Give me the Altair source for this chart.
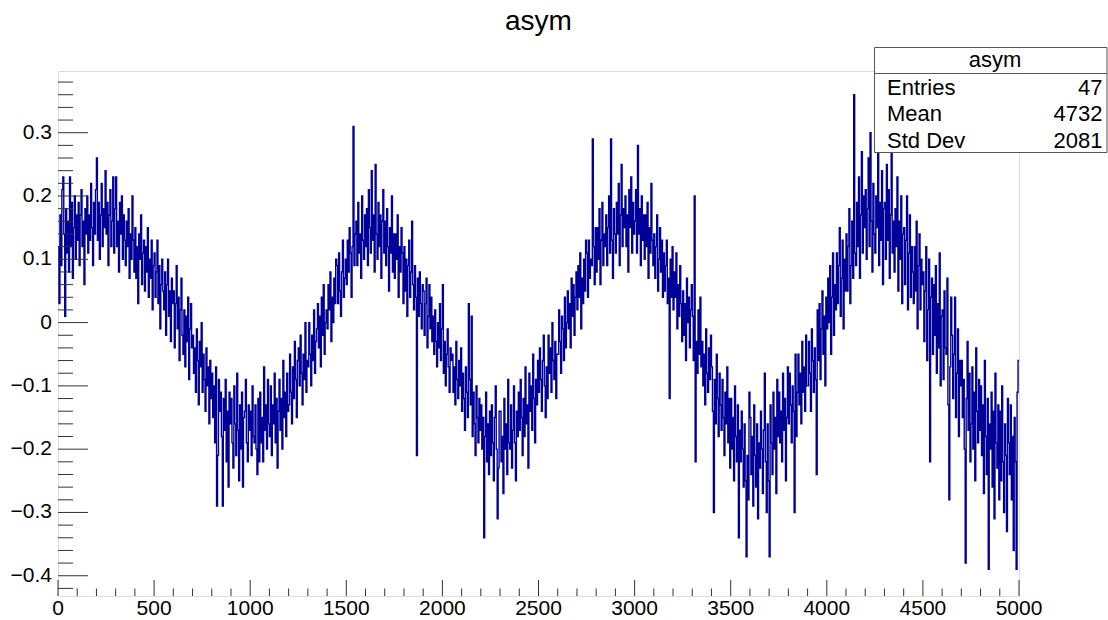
import altair as alt
import pandas as pd

# ---------------- data ----------------
title_text = "asym"
x_range = [0, 5000]

# histogram contents, one value per 5 units of x, read row by row (each row = 50 units)
asym_values = [
    0.12, 0.03, 0.17, 0.09, 0.21, 0.23, 0.14, 0.01, 0.18, 0.11,           # 0
    0.16, 0.08, 0.23, 0.12, 0.19, 0.07, 0.15, 0.20, 0.10, 0.17,           # 50
    0.13, 0.19, 0.09, 0.17, 0.21, 0.12, 0.16, 0.06, 0.18, 0.14,           # 100
    0.20, 0.11, 0.17, 0.13, 0.22, 0.15, 0.09, 0.19, 0.14, 0.21,           # 150
    0.26, 0.13, 0.19, 0.10, 0.17, 0.22, 0.12, 0.18, 0.15, 0.24,           # 200
    0.14, 0.19, 0.09, 0.17, 0.21, 0.12, 0.16, 0.23, 0.11, 0.18,           # 250
    0.23, 0.12, 0.16, 0.08, 0.19, 0.14, 0.20, 0.10, 0.17, 0.13,           # 300
    0.09, 0.16, 0.12, 0.18, 0.07, 0.14, 0.10, 0.20, 0.13, 0.08,           # 350
    0.15, 0.07, 0.12, 0.03, 0.14, 0.10, 0.17, 0.06, 0.11, 0.13,           # 400
    0.05, 0.12, 0.08, 0.15, 0.04, 0.10, 0.07, 0.13, 0.02, 0.09,           # 450
    0.11, 0.04, 0.08, 0.13, 0.03, 0.09, -0.01, 0.06, 0.10, 0.05,          # 500
    0.02, 0.08, -0.02, 0.06, 0.10, 0.01, 0.05, -0.03, 0.07, 0.03,         # 550
    0.05, -0.04, 0.03, 0.09, -0.01, 0.04, -0.06, 0.02, 0.07, -0.02,       # 600
    -0.05, 0.02, -0.07, 0.01, -0.03, 0.04, -0.09, -0.01, 0.03, -0.04,     # 650
    -0.02, -0.08, -0.04, -0.11, -0.01, -0.06, -0.13, -0.03, -0.07, 0.00,  # 700
    -0.11, -0.05, -0.09, -0.14, -0.04, -0.10, -0.07, -0.16, -0.06, -0.12, # 750
    -0.08, -0.15, -0.10, -0.19, -0.07, -0.29, -0.21, -0.09, -0.14, -0.11, # 800
    -0.18, -0.29, -0.12, -0.17, -0.09, -0.22, -0.14, -0.26, -0.11, -0.16, # 850
    -0.12, -0.19, -0.23, -0.10, -0.16, -0.21, -0.08, -0.17, -0.25, -0.13, # 900
    -0.20, -0.11, -0.26, -0.15, -0.14, -0.09, -0.19, -0.22, -0.13, -0.17, # 950
    -0.14, -0.21, -0.10, -0.18, -0.19, -0.13, -0.20, -0.24, -0.12, -0.22, # 1000
    -0.11, -0.19, -0.15, -0.22, -0.07, -0.17, -0.13, -0.20, -0.09, -0.16, # 1050
    -0.18, -0.10, -0.21, -0.13, -0.16, -0.08, -0.19, -0.12, -0.23, -0.14, # 1100
    -0.09, -0.17, -0.12, -0.20, -0.06, -0.15, -0.11, -0.18, -0.08, -0.14, # 1150
    -0.13, -0.05, -0.11, -0.16, -0.07, -0.12, -0.03, -0.09, -0.15, -0.06, # 1200
    -0.04, -0.10, -0.02, -0.08, -0.13, -0.05, -0.09, 0.00, -0.11, -0.06,  # 1250
    -0.07, 0.00, -0.05, -0.10, -0.02, -0.06, 0.02, -0.08, -0.03, -0.01,   # 1300
    0.03, -0.04, 0.01, -0.07, 0.04, -0.02, 0.06, -0.05, 0.00, 0.02,       # 1350
    -0.01, 0.06, 0.02, 0.08, -0.03, 0.04, 0.00, 0.07, 0.03, 0.10,         # 1400
    0.09, 0.03, 0.11, 0.05, 0.01, 0.08, 0.13, 0.04, 0.07, 0.10,           # 1450
    0.06, 0.13, 0.08, 0.15, 0.11, 0.04, 0.12, 0.31, 0.09, 0.14,           # 1500
    0.16, 0.09, 0.19, 0.11, 0.14, 0.07, 0.20, 0.13, 0.10, 0.17,           # 1550
    0.12, 0.18, 0.09, 0.21, 0.15, 0.11, 0.24, 0.13, 0.17, 0.08,           # 1600
    0.25, 0.14, 0.10, 0.19, 0.12, 0.17, 0.07, 0.16, 0.21, 0.11,           # 1650
    0.16, 0.09, 0.18, 0.12, 0.05, 0.15, 0.11, 0.20, 0.08, 0.14,           # 1700
    0.07, 0.14, 0.10, 0.17, 0.04, 0.12, 0.08, 0.15, 0.11, 0.03,           # 1750
    0.12, 0.05, 0.10, 0.01, 0.09, 0.13, 0.04, 0.08, 0.16, 0.06,           # 1800
    0.02, 0.09, 0.04, -0.21, 0.07, 0.01, 0.08, 0.03, -0.01, 0.06,         # 1850
    0.05, -0.02, 0.03, 0.07, -0.04, 0.01, 0.06, -0.01, 0.04, -0.03,       # 1900
    0.01, -0.05, 0.02, -0.03, -0.07, 0.00, -0.04, 0.03, -0.06, -0.01,     # 1950
    0.06, -0.08, -0.03, -0.10, -0.05, -0.01, -0.07, -0.11, -0.04, -0.06,  # 2000
    -0.05, -0.11, -0.07, -0.13, -0.03, -0.09, -0.12, -0.06, -0.10, -0.04, # 2050
    -0.14, -0.08, -0.12, -0.17, -0.07, -0.11, -0.15, 0.03, -0.09, -0.13,  # 2100
    0.01, -0.18, -0.11, -0.16, -0.21, -0.10, -0.15, -0.19, -0.12, -0.17,  # 2150
    -0.13, -0.20, -0.15, -0.34, -0.18, -0.11, -0.22, -0.16, -0.24, -0.14, # 2200
    -0.21, -0.13, -0.19, -0.25, -0.15, -0.10, -0.20, -0.31, -0.23, -0.14, # 2250
    -0.14, -0.22, -0.18, -0.27, -0.12, -0.20, -0.16, -0.24, -0.09, -0.19, # 2300
    -0.20, -0.13, -0.23, -0.17, -0.10, -0.19, -0.25, -0.14, -0.18, -0.11, # 2350
    -0.17, -0.09, -0.15, -0.21, -0.12, -0.18, -0.07, -0.16, -0.13, -0.23, # 2400
    -0.08, -0.14, -0.10, -0.17, -0.05, -0.12, -0.19, -0.09, -0.13, -0.06, # 2450
    -0.11, -0.04, -0.09, -0.14, -0.06, -0.02, -0.10, -0.15, -0.07, -0.12, # 2500
    -0.02, -0.08, -0.04, -0.11, 0.00, -0.06, -0.09, -0.03, -0.12, -0.05,  # 2550
    -0.05, 0.02, -0.03, -0.08, 0.01, -0.01, -0.06, 0.04, -0.04, 0.00,     # 2600
    0.05, -0.01, 0.03, -0.04, 0.07, 0.01, 0.06, -0.02, 0.04, 0.08,        # 2650
    0.02, 0.09, 0.04, 0.11, -0.01, 0.07, 0.03, 0.10, 0.05, 0.13,          # 2700
    0.11, 0.04, 0.13, 0.07, 0.10, 0.09, 0.29, 0.12, 0.06, 0.15,           # 2750
    0.08, 0.15, 0.10, 0.18, 0.06, 0.13, 0.19, 0.09, 0.14, 0.12,           # 2800
    0.17, 0.09, 0.15, 0.20, 0.11, 0.29, 0.13, 0.07, 0.18, 0.14,           # 2850
    0.11, 0.19, 0.14, 0.22, 0.09, 0.17, 0.25, 0.12, 0.18, 0.15,           # 2900
    0.20, 0.12, 0.17, 0.08, 0.21, 0.15, 0.23, 0.11, 0.19, 0.14,           # 2950
    0.16, 0.21, 0.11, 0.28, 0.14, 0.18, 0.09, 0.20, 0.13, 0.17,           # 3000
    0.10, 0.17, 0.12, 0.19, 0.07, 0.15, 0.11, 0.22, 0.13, 0.09,           # 3050
    0.14, 0.07, 0.12, 0.17, 0.05, 0.10, 0.15, 0.08, 0.13, 0.04,           # 3100
    0.11, 0.05, 0.09, 0.13, 0.03, 0.07, -0.12, 0.10, 0.04, 0.12,          # 3150
    0.02, 0.08, 0.04, 0.11, -0.01, 0.06, 0.01, 0.09, 0.03, -0.03,         # 3200
    0.05, -0.02, 0.03, -0.06, 0.07, 0.00, 0.04, -0.04, 0.02, 0.06,        # 3250
    0.01, -0.06, 0.20, -0.22, -0.03, -0.08, 0.02, -0.05, 0.04, -0.07,     # 3300
    -0.03, -0.10, -0.05, -0.13, -0.01, -0.08, -0.11, -0.04, -0.09, -0.02, # 3350
    -0.07, -0.14, -0.30, -0.09, -0.16, -0.05, -0.12, -0.18, -0.08, -0.13, # 3400
    -0.17, -0.09, -0.15, -0.21, -0.11, -0.16, -0.07, -0.19, -0.12, -0.23, # 3450
    -0.12, -0.20, -0.15, -0.25, -0.10, -0.18, -0.22, -0.13, -0.34, -0.17, # 3500
    -0.22, -0.14, -0.20, -0.26, -0.16, -0.25, -0.37, -0.21, -0.28, -0.11, # 3550
    -0.15, -0.24, -0.18, -0.29, -0.13, -0.21, -0.26, -0.16, -0.31, -0.19, # 3600
    -0.23, -0.14, -0.20, -0.27, -0.17, -0.08, -0.22, -0.30, -0.16, -0.25, # 3650
    -0.37, -0.13, -0.19, -0.24, -0.11, -0.20, -0.15, -0.27, -0.09, -0.18, # 3700
    -0.11, -0.19, -0.14, -0.22, -0.08, -0.17, -0.12, -0.25, -0.15, -0.07, # 3750
    -0.16, -0.08, -0.13, -0.19, -0.10, -0.14, -0.30, -0.05, -0.18, -0.11, # 3800
    -0.05, -0.13, -0.08, -0.16, -0.03, -0.11, -0.07, -0.14, -0.02, -0.10, # 3850
    -0.10, -0.03, -0.08, -0.14, -0.01, -0.06, -0.11, -0.04, -0.09, -0.24, # 3900
    0.02, -0.06, 0.03, -0.09, -0.01, 0.05, -0.05, 0.01, -0.10, 0.04,      # 3950
    -0.01, 0.07, 0.00, 0.09, -0.05, 0.04, 0.11, -0.02, 0.06, 0.02,        # 4000
    0.11, 0.03, 0.09, 0.15, 0.01, 0.07, 0.13, -0.01, 0.10, 0.05,          # 4050
    0.14, 0.05, 0.12, 0.18, 0.03, 0.09, 0.16, 0.07, 0.36, 0.11,           # 4100
    0.09, 0.19, 0.12, 0.23, 0.07, 0.17, 0.27, 0.11, 0.20, 0.15,           # 4150
    0.21, 0.10, 0.18, 0.26, 0.12, 0.30, 0.16, 0.08, 0.22, 0.14,           # 4200
    0.11, 0.20, 0.15, 0.29, 0.09, 0.19, 0.13, 0.24, 0.06, 0.18,           # 4250
    0.19, 0.10, 0.25, 0.13, 0.21, 0.07, 0.17, 0.28, 0.11, 0.16,           # 4300
    0.08, 0.18, 0.12, 0.23, 0.05, 0.16, 0.10, 0.20, 0.03, 0.14,           # 4350
    0.15, 0.06, 0.13, 0.20, 0.02, 0.11, 0.17, 0.04, 0.12, 0.08,           # 4400
    0.03, 0.12, 0.05, 0.16, -0.01, 0.09, 0.14, 0.02, 0.10, 0.06,          # 4450
    0.08, -0.03, 0.05, 0.12, -0.06, 0.02, 0.10, -0.22, 0.04, 0.07,        # 4500
    -0.05, 0.06, -0.02, 0.09, -0.08, 0.03, -0.04, 0.11, -0.10, 0.01,      # 4550
    0.02, -0.09, 0.05, -0.04, -0.05, 0.07, -0.13, -0.28, -0.07, 0.04,     # 4600
    -0.02, -0.12, -0.05, 0.04, -0.15, -0.08, -0.01, -0.18, -0.06, -0.10,  # 4650
    -0.06, -0.15, -0.09, -0.20, -0.38, -0.12, -0.03, -0.17, -0.08, -0.22, # 4700
    -0.16, -0.07, -0.20, -0.11, -0.25, -0.04, -0.14, -0.19, -0.09, -0.17, # 4750
    -0.10, -0.21, -0.13, -0.27, -0.06, -0.18, -0.24, -0.12, -0.39, -0.16, # 4800
    -0.20, -0.11, -0.26, -0.14, -0.31, -0.08, -0.19, -0.23, -0.13, -0.28, # 4850
    -0.14, -0.25, -0.10, -0.22, -0.30, -0.16, -0.21, -0.33, -0.12, -0.19, # 4900
    -0.24, -0.13, -0.28, -0.18, -0.36, -0.15, -0.22, -0.39, -0.11, -0.06, # 4950
]

x_tick_values = [0, 500, 1000, 1500, 2000, 2500, 3000, 3500, 4000, 4500, 5000]
x_tick_text = ["0", "500", "1000", "1500", "2000", "2500", "3000", "3500", "4000", "4500", "5000"]
x_minor_ticks = [v for v in range(0, 5001, 100) if v % 500 != 0]
y_tick_values = [-0.4, -0.3, -0.2, -0.1, 0.0, 0.1, 0.2, 0.3]
y_tick_text = ["\u22120.4", "\u22120.3", "\u22120.2", "\u22120.1", "0", "0.1", "0.2", "0.3"]
y_minor_ticks = [-0.42, -0.38, -0.36, -0.34, -0.32, -0.28, -0.26, -0.24, -0.22,
                 -0.18, -0.16, -0.14, -0.12, -0.08, -0.06, -0.04, -0.02,
                 0.02, 0.04, 0.06, 0.08, 0.12, 0.14, 0.16, 0.18,
                 0.22, 0.24, 0.26, 0.28, 0.32, 0.34, 0.36, 0.38]

stat_names = ["Entries", "Mean", "Std Dev"]
stat_values = ["47", "4732", "2081"]

# ---------------- layout / style ----------------
W, H = 961, 525
Y_DOMAIN = [-0.432, 0.3975]
FONT = "Liberation Sans"
LINE_COLOR = "#000099"
TICK_COLOR = "#333333"
LABEL_SIZE = 21

n_bins = len(asym_values)
bw = (x_range[1] - x_range[0]) / n_bins
xs = [x_range[0] + i * bw for i in range(n_bins)] + [x_range[1]]
ys = asym_values + [asym_values[-1]]
hist = pd.DataFrame({"x": xs, "y": ys})

xscale = alt.Scale(domain=x_range, nice=False, zero=False)
yscale = alt.Scale(domain=Y_DOMAIN, nice=False, zero=False)

line = alt.Chart(hist).mark_line(
    interpolate="step-after", color=LINE_COLOR, strokeWidth=1.4, clip=True
).encode(
    x=alt.X("x:Q", scale=xscale, axis=None),
    y=alt.Y("y:Q", scale=yscale, axis=None),
)

# inward ticks
y_major = alt.Chart(pd.DataFrame({"v": y_tick_values})).mark_rule(
    color=TICK_COLOR, strokeWidth=1).encode(
    y=alt.Y("v:Q", scale=yscale, axis=None), x=alt.value(0), x2=alt.value(30))
y_minor = alt.Chart(pd.DataFrame({"v": y_minor_ticks})).mark_rule(
    color=TICK_COLOR, strokeWidth=1).encode(
    y=alt.Y("v:Q", scale=yscale, axis=None), x=alt.value(0), x2=alt.value(15))
x_major = alt.Chart(pd.DataFrame({"v": x_tick_values})).mark_rule(
    color=TICK_COLOR, strokeWidth=1).encode(
    x=alt.X("v:Q", scale=xscale, axis=None), y=alt.value(H), y2=alt.value(H - 16))
x_minor = alt.Chart(pd.DataFrame({"v": x_minor_ticks})).mark_rule(
    color=TICK_COLOR, strokeWidth=1).encode(
    x=alt.X("v:Q", scale=xscale, axis=None), y=alt.value(H), y2=alt.value(H - 7.5))

# tick labels
y_labels = alt.Chart(pd.DataFrame({"v": y_tick_values, "t": y_tick_text})).mark_text(
    font=FONT, fontSize=LABEL_SIZE, align="right", baseline="middle", color="#000000"
).encode(y=alt.Y("v:Q", scale=yscale, axis=None), x=alt.value(-6), text="t:N")
x_labels = alt.Chart(pd.DataFrame({"v": x_tick_values, "t": x_tick_text})).mark_text(
    font=FONT, fontSize=LABEL_SIZE, align="center", baseline="alphabetic", color="#000000"
).encode(x=alt.X("v:Q", scale=xscale, axis=None), y=alt.value(H + 19), text="t:N")

one = pd.DataFrame({"a": [0]})

# title
title = alt.Chart(one).mark_text(
    text=title_text, font=FONT, fontSize=28, align="center", baseline="alphabetic",
    color="#000000").encode(x=alt.value(480.5), y=alt.value(-41))

# stats box
BOX_L, BOX_R, BOX_T, BOX_B = 816.5, 1049, -23.5, 81.5
box = alt.Chart(one).mark_rect(fill="white", stroke="#555555", strokeWidth=1).encode(
    x=alt.value(BOX_L), x2=alt.value(BOX_R), y=alt.value(BOX_T), y2=alt.value(BOX_B))
box_div = alt.Chart(one).mark_rule(color="#555555", strokeWidth=1).encode(
    x=alt.value(BOX_L), x2=alt.value(BOX_R), y=alt.value(2.5))
box_title = alt.Chart(one).mark_text(
    text=title_text, font=FONT, fontSize=22, align="center", baseline="middle",
    color="#000000").encode(x=alt.value(937), y=alt.value(-11))

stat_layers = []
row_y = [16.5, 43, 70]
for name, val, yy in zip(stat_names, stat_values, row_y):
    stat_layers.append(alt.Chart(one).mark_text(
        text=name, font=FONT, fontSize=22, align="left", baseline="middle",
        color="#000000").encode(x=alt.value(829), y=alt.value(yy)))
    stat_layers.append(alt.Chart(one).mark_text(
        text=val, font=FONT, fontSize=22, align="right", baseline="middle",
        color="#000000").encode(x=alt.value(1044.5), y=alt.value(yy)))

chart = alt.layer(
    line, y_major, y_minor, x_major, x_minor, y_labels, x_labels,
    title, box, box_div, box_title, *stat_layers
).properties(
    width=W, height=H,
    padding={"left": 58, "top": 71, "right": 89, "bottom": 24},
    autosize=alt.AutoSizeParams(type="none"),
).configure_view(
    stroke="#7f7f7f", strokeWidth=1
).configure(background="white")

chart.save("out.html", embed_options={"renderer": "svg", "actions": False})
